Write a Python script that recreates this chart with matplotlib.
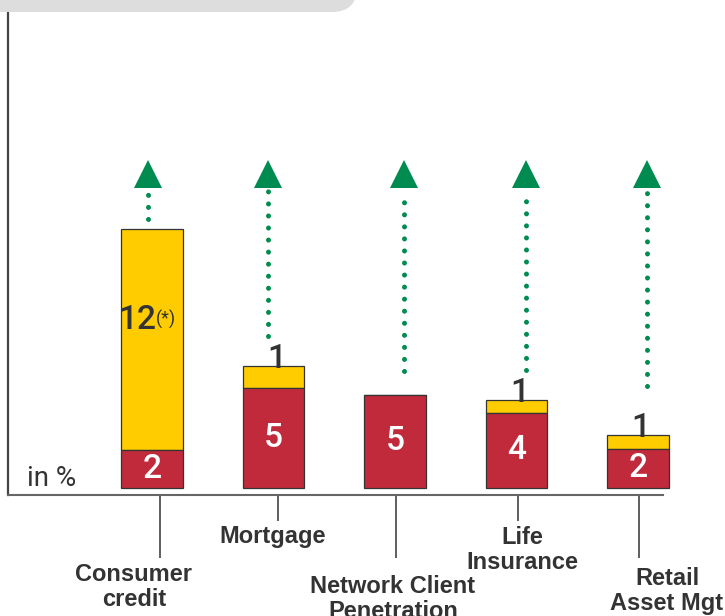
import matplotlib.pyplot as plt
from matplotlib.patches import FancyBboxPatch

# categorias e valores (alturas)
categorias = ["Consumer\ncredit", "Mortgage", "Network Client\nPenetration",
              "Life\nInsurance", "Retail\nAsset Mgt"]
base_vermelha = [2.0, 5.3, 4.95, 4.0, 2.1]
topo_amarelo = [11.8, 1.2, 0.0, 0.7, 0.7]
rotulos_vermelhos = ["2", "5", "5", "4", "2"]
rotulos_amarelos = ["12", "1", "", "1", "1"]
# inicio das setas pontilhadas e topo (mesma escala)
seta_inicio = [14.3, 8.1, 6.2, 6.3, 5.4]
seta_fim = 15.8
seta_ponta = 16.7

VERMELHO = "#C02A3B"
AMARELO = "#FFCC00"
VERDE = "#008C50"
CINZA_TXT = "#333333"

fig = plt.figure(figsize=(7.25, 6.16), dpi=100)

# faixa cinza arredondada no topo
faixa = FancyBboxPatch((-0.6, 6.04), 4.17, 1.0,
                       boxstyle="round,pad=0,rounding_size=0.25",
                       transform=fig.dpi_scale_trans, facecolor="#DDDDDD",
                       edgecolor="none")
fig.patches.append(faixa)

ax = fig.add_axes([8 / 725, 1 - 495 / 616, (690 - 8) / 725, (495 - 12) / 616])
ax.set_xlim((8 - 152) / 121.5, (690 - 152) / 121.5)
ax.set_ylim(-7 / 18.8, (488 - 12) / 18.8)

x = list(range(len(categorias)))
largura = 0.51

ax.bar(x, base_vermelha, width=largura, color=VERMELHO, edgecolor=CINZA_TXT,
       linewidth=0.9, zorder=3)
ax.bar(x, topo_amarelo, width=largura, bottom=base_vermelha, color=AMARELO,
       edgecolor=CINZA_TXT, linewidth=0.9, zorder=2)

fonte_num = "Roboto"
peso_num = "medium"
for i in x:
    # rótulo vermelho
    ax.text(i, base_vermelha[i] / 2, rotulos_vermelhos[i], color="white",
            ha="center", va="center", fontsize=24, family=fonte_num,
            fontweight=peso_num, zorder=5)
    # rótulo amarelo
    if rotulos_amarelos[i] == "12":
        ycent = base_vermelha[i] + topo_amarelo[i] / 2
        ax.annotate("12", (i, ycent), xytext=(3, 14), textcoords="offset points",
                    ha="right", va="center", fontsize=24, family=fonte_num,
                    fontweight=peso_num, color=CINZA_TXT, zorder=5)
        ax.annotate("(*)", (i, ycent), xytext=(3, 14.5), textcoords="offset points",
                    ha="left", va="center", fontsize=13, family=fonte_num,
                    color=CINZA_TXT, zorder=5)
    elif rotulos_amarelos[i]:
        ytopo = base_vermelha[i] + topo_amarelo[i]
        ax.annotate(rotulos_amarelos[i], (i, ytopo), xytext=(2, 5),
                    textcoords="offset points", ha="center", va="center",
                    fontsize=24, family=fonte_num, fontweight=peso_num,
                    color=CINZA_TXT, zorder=5)

# setas verdes pontilhadas
desloc_seta = [-0.03, -0.045, 0.07, 0.08, 0.07]
for i in x:
    xs = i + desloc_seta[i]
    ax.plot([xs, xs], [seta_inicio[i], seta_fim], color=VERDE, lw=3.6,
            linestyle=(0, (0.01, 2.4)), dash_capstyle="round", zorder=4)
    ax.plot([xs], [seta_ponta], marker="^", ms=20, color=VERDE,
            markeredgewidth=0, zorder=4)

ax.text(-1.03, 0.5, "in %", fontsize=20, family="Roboto",
        color=CINZA_TXT, ha="left", va="center")

# eixos
for lado in ["top", "right"]:
    ax.spines[lado].set_visible(False)
ax.spines["left"].set_color("#444444")
ax.spines["left"].set_linewidth(1.6)
ax.spines["bottom"].set_color("#666666")
ax.spines["bottom"].set_linewidth(1.5)
ax.spines["bottom"].set_bounds((8 - 152) / 121.5, (663 - 152) / 121.5)
ax.set_yticks([])

# marcas penduradas no eixo x (longas e curtas alternadas)
desloc_tick = [0.066, 0.04, 0.01, 0.01, 0.01]
ticks = [i + desloc_tick[i] for i in x]
ax.set_xticks([ticks[0], ticks[2], ticks[4]], ["", "", ""])
ax.set_xticks([ticks[1], ticks[3]], ["", ""], minor=True)
ax.tick_params(axis="x", which="major", length=45, width=1.1, color=CINZA_TXT)
ax.tick_params(axis="x", which="minor", length=19, width=1.1, color=CINZA_TXT)

# rótulos das categorias (deslocamento em pixels: dx, topo abaixo do eixo)
desloc_rotulo = [(-18, 68), (-1, 30), (-2, 80), (6, 31), (29, 72)]
for i in x:
    dx, dy = desloc_rotulo[i]
    ax.annotate(categorias[i], (i, 0), xycoords=("data", "axes fraction"),
                xytext=(dx * 0.72, -dy * 0.72), textcoords="offset points",
                ha="center", va="top", family="Liberation Sans",
                fontweight="bold", fontsize=17, color=CINZA_TXT,
                linespacing=1.1, annotation_clip=False)

fig.savefig("out.png", dpi=100)
